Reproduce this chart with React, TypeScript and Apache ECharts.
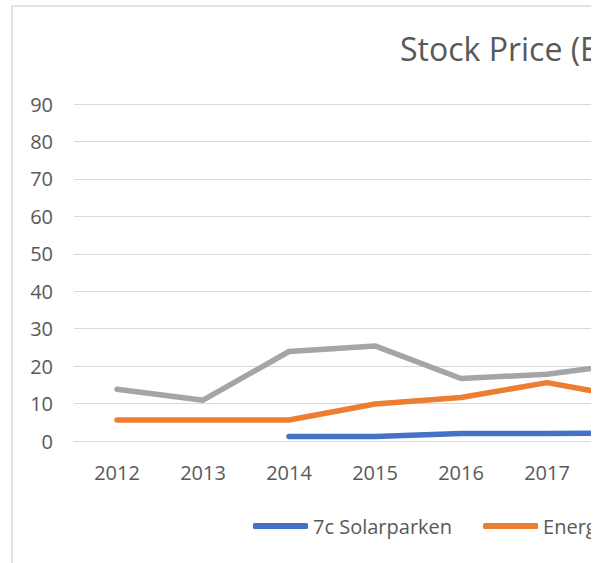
import React, { useEffect, useRef } from "react";
import * as echarts from "echarts";

const years = ["2012", "2013", "2014", "2015", "2016", "2017", "2018"];
const solarparken = [null, null, 1.2, 1.2, 2.0, 2.0, 2.1];
const energiekontor = [5.6, 5.6, 5.6, 9.9, 11.6, 15.6, 11.4];
const thirdSeries = [13.8, 10.9, 23.9, 25.4, 16.7, 17.8, 20.9];
const seriesNames = ["7c Solarparken", "Energiekontor", "Encavis"];
const yTicks = { min: 0, max: 90, interval: 10 };

export default function App() {
  const ref = useRef<HTMLDivElement>(null);
  useEffect(() => {
    if (!ref.current) return;
    const chart = echarts.init(ref.current, null, { renderer: "svg" });
    const font = "'Open Sans', sans-serif";
    const mk = (name: string, data: (number | null)[], color: string) => ({
      name,
      type: "line",
      data,
      symbol: "none",
      color,
      lineStyle: { width: 5.5, color, cap: "round", join: "round" },
    });
    chart.setOption({
      animation: false,
      backgroundColor: "#fff",
      title: {
        text: "Stock Price (EUR)",
        left: 382,
        top: 20,
        textStyle: { fontFamily: font, fontSize: 32, fontWeight: "normal", color: "#595959" },
      },
      legend: {
        left: 235,
        top: 504,
        icon: "roundRect",
        itemWidth: 55,
        itemHeight: 6,
        itemGap: 31,
        textStyle: { fontFamily: font, fontSize: 20, color: "#595959" },
        data: seriesNames,
      },
      grid: { left: 61, top: 97, height: 337, width: 602 },
      xAxis: {
        type: "category",
        data: years,
        boundaryGap: true,
        axisLine: { show: true, lineStyle: { color: "#d9d9d9", width: 1 } },
        axisTick: { show: false },
        axisLabel: { fontFamily: font, fontSize: 20, color: "#595959", margin: 21 },
      },
      yAxis: {
        type: "value",
        min: yTicks.min,
        max: yTicks.max,
        interval: yTicks.interval,
        axisLine: { show: false },
        axisTick: { show: false },
        splitLine: { lineStyle: { color: "#d9d9d9", width: 1 } },
        axisLabel: { fontFamily: font, fontSize: 20, color: "#595959", margin: 21 },
      },
      series: [
        mk(seriesNames[0], solarparken, "#4472C4"),
        mk(seriesNames[1], energiekontor, "#ED7D31"),
        mk(seriesNames[2], thirdSeries, "#A5A5A5"),
      ],
    });
    return () => chart.dispose();
  }, []);
  return (
    <div
      style={{
        position: "fixed",
        left: 0,
        top: 0,
        width: 591,
        height: 563,
        overflow: "hidden",
        background: "#fff",
      }}
    >
      <div
        style={{
          position: "absolute",
          left: 11,
          top: 5,
          border: "2px solid #e3e3e3",
        }}
      >
        <div ref={ref} style={{ width: 1000, height: 620 }} />
      </div>
    </div>
  );
}
